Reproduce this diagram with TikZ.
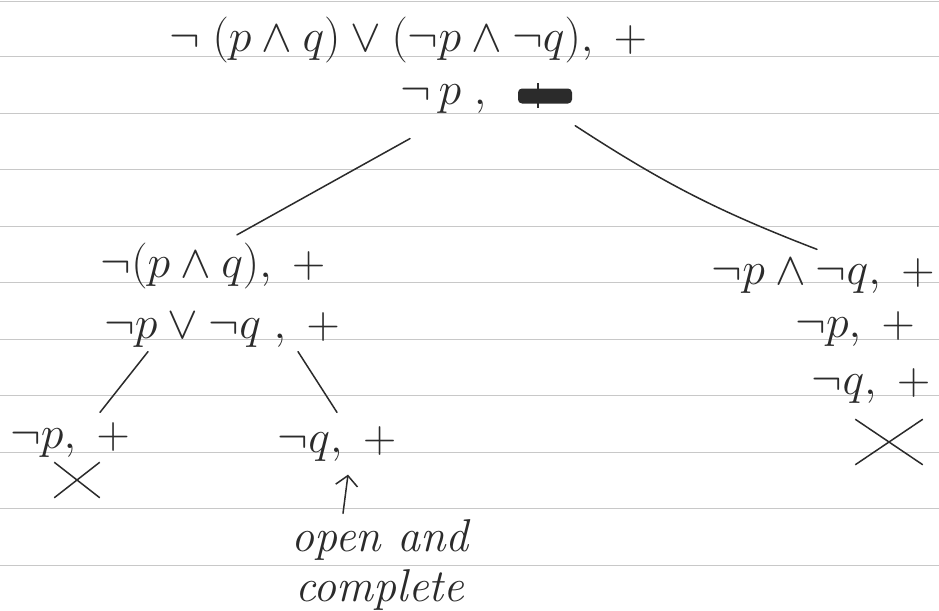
\RequirePackage{fix-cm}
\documentclass[tikz,border=0pt]{standalone}
\usetikzlibrary{shapes.misc,arrows.meta,calc}
\definecolor{ink}{HTML}{2B2B2B}
\definecolor{rule}{HTML}{C8C8C8}
\tikzset{
  hw/.style={text=ink,inner sep=0pt,font=\fontsize{46}{52}\selectfont},
  note/.style={text=ink,inner sep=0pt,align=center,font=\fontsize{46}{50}\selectfont\itshape},
  edge/.style={draw=ink,line width=1.5pt,line cap=round},
  closedx/.style={cross out,draw=ink,line width=1.5pt,inner sep=0pt},
  scribble/.style={fill=ink,rounded corners=4pt,inner sep=0pt,minimum width=54pt,minimum height=15pt},
  ruled/.style={draw=rule,line width=0.9pt}
}
\begin{document}
\begin{tikzpicture}[x=1pt,y=-1pt]
\useasboundingbox[fill=white] (0,0) rectangle (939,610);
% ruled paper
\foreach \yy in {1,56,113,169,226,282,339,395,452,508,565}
  \draw[ruled] (0,\yy) -- (939,\yy);
% root
\node[hw] (r1) at (408,40) {$\lnot\;(p\wedge q)\vee(\lnot p\wedge\lnot q),\;+$};
\node[hw,anchor=west] (r2) at (400,99) {$\lnot\,p\;,$};
\node[scribble] (scr) at (545,96) {};
\draw[ink,line width=1.5pt] (scr.north) ++(-7,-5) -- ++(0,25);
% left branch
\node[hw] (L1) at (213,266) {$\lnot(p\wedge q),\;+$};
\node[hw] (L2) at (222,330) {$\lnot p\vee\lnot q\;,\;+$};
\node[hw] (LL) at (70,440) {$\lnot p,\;+$};
\node[hw] (LR) at (337,444) {$\lnot q,\;+$};
\node[closedx,minimum width=44pt,minimum height=34pt] (xl) at (77,480) {};
% right branch
\node[hw] (R1) at (823,276) {$\lnot p\wedge\lnot q,\;+$};
\node[hw] (R2) at (855,329) {$\lnot p,\;+$};
\node[hw] (R3) at (871,386) {$\lnot q,\;+$};
\node[closedx,minimum width=66pt,minimum height=44pt] (xr) at (889,442) {};
% note
\node[note] (nt) at (380,565) {open and\\complete};
% connectors
\draw[edge] ([xshift=10pt,yshift=-25pt]r2.south west) -- ([xshift=24pt,yshift=8pt]L1.north);
\draw[edge] ([xshift=3pt,yshift=-22pt]scr.south east) to[bend right=6] ([xshift=-6pt,yshift=9pt]R1.north);
\draw[edge] ([xshift=-74pt,yshift=-4pt]L2.south) -- ([xshift=30pt,yshift=10pt]LL.north);
\draw[edge] ([xshift=76pt,yshift=-4pt]L2.south) -- ([xshift=0pt,yshift=14pt]LR.north);
\draw[edge,-{Straight Barb[length=10pt,width=22pt]}] ([xshift=-37pt,yshift=6pt]nt.north) -- ([xshift=11pt,yshift=-13pt]LR.south);
\end{tikzpicture}
\end{document}
